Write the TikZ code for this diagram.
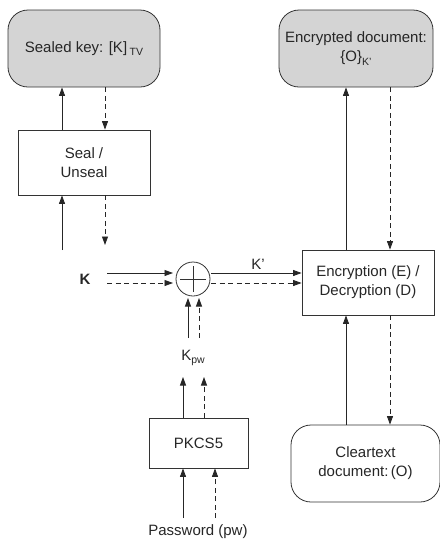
\documentclass[tikz,border=0pt]{standalone}
\usepackage{fontspec}
\setmainfont{Liberation Sans}
\usetikzlibrary{arrows.meta}
\tikzset{
  x=1pt,y=-1pt,
  every node/.style={font=\fontsize{15}{17}\selectfont, text=black!85, inner sep=0pt},
  doc/.style={draw=black!80, line width=0.8pt, rounded corners=20pt, align=center},
  proc/.style={draw=black!80, line width=0.8pt, align=center},
  conn/.style={line width=0.8pt, draw=black!85, -{Triangle[length=8.5pt,width=6pt]}},
  dconn/.style={conn, dash pattern=on 5pt off 3.5pt},
}
\newcommand{\sbs}[1]{\raisebox{-0.45ex}{\fontsize{10.5}{12}\selectfont #1}}
\begin{document}
\begin{tikzpicture}
\useasboundingbox (0,0) rectangle (440,542);
% nodes
\node[doc, fill=black!17, minimum width=152pt, minimum height=77pt] (sealed) at (84,48.5) {Sealed key: [K]\,\sbs{TV}};
\node[proc, minimum width=132pt, minimum height=65pt] (seal) at (84,162.5) {Seal /\\[2pt]Unseal};
\node[doc, fill=black!17, minimum width=154pt, minimum height=77pt] (encdoc) at (356,48.5) {Encrypted document:\\[2pt]\{O\}\sbs{K'}};
\node[proc, minimum width=132pt, minimum height=65pt] (enc) at (368,282.5) {Encryption (E) /\\[2pt]Decryption (D)};
\node[doc, minimum width=149pt, minimum height=77pt] (clear) at (365.5,463.5) {Cleartext\\[2pt]document:\,(O)};
\node[proc, minimum width=99pt, minimum height=50pt] (pkcs) at (198.5,443) {PKCS5};
\node[draw=black!80, line width=0.8pt, circle, minimum size=34pt] (xor) at (193,279) {};
\draw[line width=0.8pt, draw=black!80] (xor.center) ++(-13,0) -- ++(26,0);
\draw[line width=0.8pt, draw=black!80] (xor.center) ++(0,-13) -- ++(0,26);
\node[font=\fontsize{15}{17}\selectfont\bfseries] (k) at (85,279) {K};
\node (kp) at (258,264) {K'};
\node (kpw) at (193,358) {K\sbs{pw}};
\node (pw) at (198,532) {Password (pw)};
% coordinates for free ends
\coordinate (s1) at (62,250);
\coordinate (s2) at (105,245);
\coordinate (k1) at (107,273);
\coordinate (k1e) at (173,273);
\coordinate (k2) at (107,283);
\coordinate (k2e) at (173,283);
\coordinate (x1) at (211,273);
\coordinate (x2) at (211,283);
\coordinate (kpw1) at (188,338);
\coordinate (kpw1e) at (188,298);
\coordinate (kpw2) at (199,338);
\coordinate (kpw2e) at (199,298);
\coordinate (p1) at (183,377);
\coordinate (p2) at (204,377);
\coordinate (pw1) at (183,518);
\coordinate (pw2) at (215,518);
% connectors
\draw[conn] (seal.north -| 62,0) -- (sealed.south -| 62,0);
\draw[dconn] (sealed.south -| 105,0) -- (seal.north -| 105,0);
\draw[conn] (s1) -- (seal.south -| s1);
\draw[dconn] (seal.south -| s2) -- (s2);
\draw[conn] (k1) -- (k1e);
\draw[dconn] (k2) -- (k2e);
\draw[conn] (x1) -- (enc.west |- x1);
\draw[dconn] (x2) -- (enc.west |- x2);
\draw[conn] (kpw1) -- (kpw1e);
\draw[dconn] (kpw2) -- (kpw2e);
\draw[conn] (pkcs.north -| p1) -- (p1);
\draw[dconn] (pkcs.north -| p2) -- (p2);
\draw[conn] (pw1) -- (pkcs.south -| pw1);
\draw[dconn] (pw2) -- (pkcs.south -| pw2);
\draw[conn] (enc.north -| 346,0) -- (encdoc.south -| 346,0);
\draw[dconn] (encdoc.south -| 390,0) -- (enc.north -| 390,0);
\draw[conn] (clear.north -| 346,0) -- (enc.south -| 346,0);
\draw[dconn] (enc.south -| 390,0) -- (clear.north -| 390,0);
\end{tikzpicture}
\end{document}
